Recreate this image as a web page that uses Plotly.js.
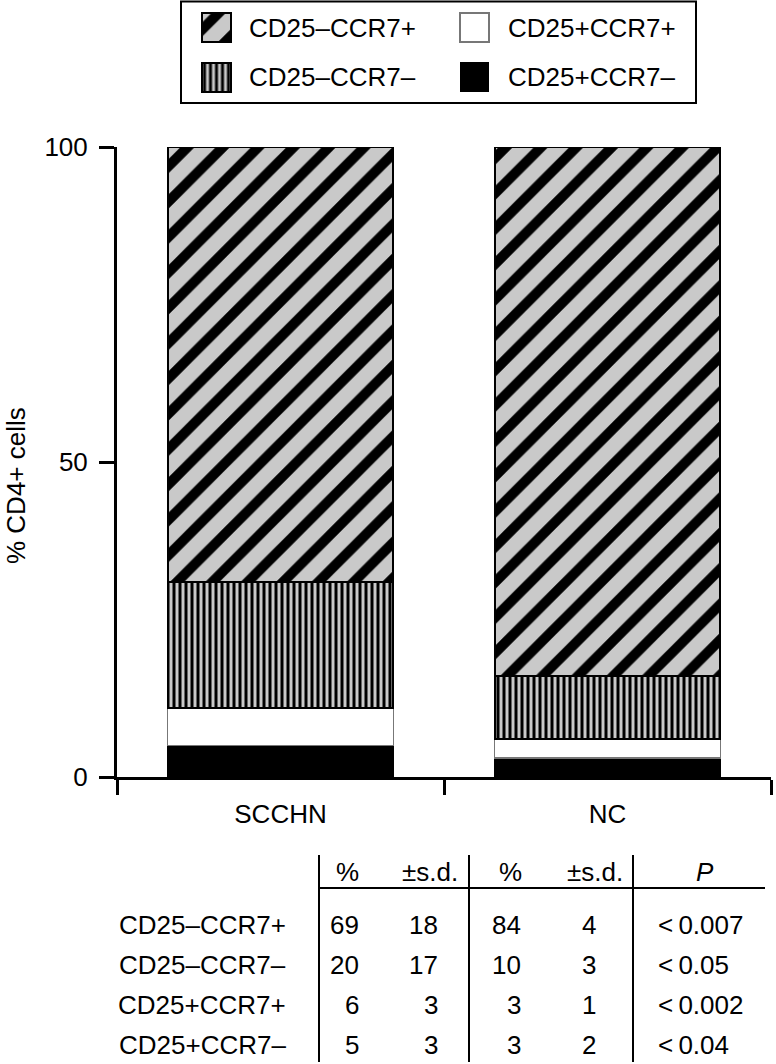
<!DOCTYPE html>
<html>
<head>
<meta charset="utf-8">
<script src="https://cdn.plot.ly/plotly-3.0.1.min.js"></script>
<style>html,body{margin:0;padding:0;background:#fff;}#chart{width:776px;height:1064px;}</style>
</head>
<body>
<div id="chart"></div>
<script>
// ---- data (table order, top row first) ----
const categories = ['SCCHN', 'NC'];
const rowLabels = ['CD25\u2013CCR7+', 'CD25\u2013CCR7\u2013', 'CD25+CCR7+', 'CD25+CCR7\u2013'];
const scchnPct = [69, 20, 6, 5];
const scchnSd = [18, 17, 3, 3];
const ncPct = [84, 10, 3, 3];
const ncSd = [4, 3, 1, 2];
const pValues = ['<\u20090.007', '<\u20090.05', '<\u20090.002', '<\u20090.04'];
const headers = ['%', '\u00b1s.d.', '%', '\u00b1s.d.', '<i>P</i>'];
const yTicks = [0, 50, 100];

// ---- styles ----
const W = 776, H = 1064;
const FONT = 'Liberation Sans, Arial, Helvetica, sans-serif';
const FS = 26;
const GRAY = '#c9c9c9';
const styles = [
  {color: GRAY, pattern: {shape: '/', bgcolor: GRAY, fgcolor: '#000', size: 25, solidity: 0.4, fillmode: 'replace'}, line: {color: '#000', width: 2}},
  {color: GRAY, pattern: {shape: '|', bgcolor: GRAY, fgcolor: '#000', size: 6, solidity: 0.5, fillmode: 'replace'}, line: {color: '#000', width: 2}},
  {color: '#ffffff', line: {color: '#777', width: 1.5}},
  {color: '#000000', line: {color: '#000', width: 1}}
];
const px = x => x / W;
const py = y => 1 - y / H;

const traces = [];
// stacked bars: bottom segment is last table row
for (let i = rowLabels.length - 1; i >= 0; i--) {
  traces.push({
    type: 'bar', name: rowLabels[i], x: categories, y: [scchnPct[i], ncPct[i]],
    marker: styles[i], showlegend: false, hoverinfo: 'skip'
  });
}
// legend swatches (custom legend, 2 columns x 2 rows)
for (let i = 0; i < rowLabels.length; i++) {
  const col = Math.floor(i / 2), row = i % 2;
  traces.push({
    type: 'bar', x: [col], y: [0.586], base: [row + 0.207], width: 0.112,
    xaxis: 'x2', yaxis: 'y2', marker: styles[i], showlegend: false, hoverinfo: 'skip'
  });
}

const annotations = [];
const shapes = [];
const f = {family: FONT, size: FS, color: '#000'};
// y-axis title
annotations.push({xref: 'paper', yref: 'paper', x: px(16), y: py(486), text: '% CD4+ cells', textangle: -90,
  showarrow: false, xanchor: 'center', yanchor: 'middle', font: f});
// legend labels and frame
const legTextX = [247, 506], legTextY = [27.5, 77];
for (let i = 0; i < rowLabels.length; i++) {
  const col = Math.floor(i / 2), row = i % 2;
  annotations.push({xref: 'paper', yref: 'paper', x: px(legTextX[col]), y: py(legTextY[row]), text: rowLabels[i],
    showarrow: false, xanchor: 'left', yanchor: 'middle', font: f});
}
shapes.push({type: 'rect', xref: 'paper', yref: 'paper', x0: px(181), x1: px(696), y0: py(1.5), y1: py(103), line: {color: '#000', width: 2}});

// table
const headX = [347, 430, 510, 595, 705];
const headY = 872;
headers.forEach((h, k) => annotations.push({xref: 'paper', yref: 'paper', x: px(headX[k]), y: py(headY), text: h,
  showarrow: false, xanchor: 'center', yanchor: 'middle', font: f}));
const rowY = [925, 965, 1005, 1045];
const colRight = [361, 440, 523, 598];
const labelRight = 288, pLeft = 656;
for (let i = 0; i < rowLabels.length; i++) {
  const y = py(rowY[i]);
  annotations.push({xref: 'paper', yref: 'paper', x: px(labelRight), y, text: rowLabels[i], showarrow: false, xanchor: 'right', yanchor: 'middle', font: f});
  [scchnPct[i], scchnSd[i], ncPct[i], ncSd[i]].forEach((v, k) =>
    annotations.push({xref: 'paper', yref: 'paper', x: px(colRight[k]), y, text: String(v), showarrow: false, xanchor: 'right', yanchor: 'middle', font: f}));
  annotations.push({xref: 'paper', yref: 'paper', x: px(pLeft), y, text: pValues[i], showarrow: false, xanchor: 'left', yanchor: 'middle', font: f});
}
[319, 469, 633].forEach(x => shapes.push({type: 'line', xref: 'paper', yref: 'paper', x0: px(x), x1: px(x), y0: py(855), y1: py(1062), line: {color: '#000', width: 2}}));
shapes.push({type: 'line', xref: 'paper', yref: 'paper', x0: px(319), x1: px(765), y0: py(888), y1: py(888), line: {color: '#000', width: 2}});

const layout = {
  width: W, height: H,
  margin: {l: 0, r: 0, t: 0, b: 0, pad: 0},
  paper_bgcolor: '#fff', plot_bgcolor: 'rgba(0,0,0,0)',
  barmode: 'stack', bargap: 0.31,
  showlegend: false, hovermode: false,
  font: f,
  xaxis: {
    domain: [px(117), px(771)], type: 'category', range: [-0.5, 1.5],
    showline: true, linecolor: '#000', linewidth: 3, showgrid: false, zeroline: false,
    ticks: 'outside', tickson: 'boundaries', ticklen: 15, tickwidth: 3, tickcolor: '#000',
    ticklabelstandoff: 12,
    tickfont: f, fixedrange: true
  },
  yaxis: {
    domain: [py(777), py(147)], range: [0, 100], tickvals: yTicks, ticktext: yTicks.map(String),
    showline: true, linecolor: '#000', linewidth: 3, showgrid: false, zeroline: false,
    ticks: 'outside', ticklen: 15, tickwidth: 3, tickcolor: '#000',
    ticklabelstandoff: 6,
    tickfont: f, fixedrange: true
  },
  xaxis2: {domain: [px(87.5), px(603.5)], range: [-0.5, 1.5], visible: false, anchor: 'y2', fixedrange: true},
  yaxis2: {domain: [py(101.75), py(2.75)], range: [2, 0], visible: false, anchor: 'x2', fixedrange: true},
  annotations, shapes
};

Plotly.newPlot('chart', traces, layout, {staticPlot: true, displayModeBar: false});
</script>
</body>
</html>
